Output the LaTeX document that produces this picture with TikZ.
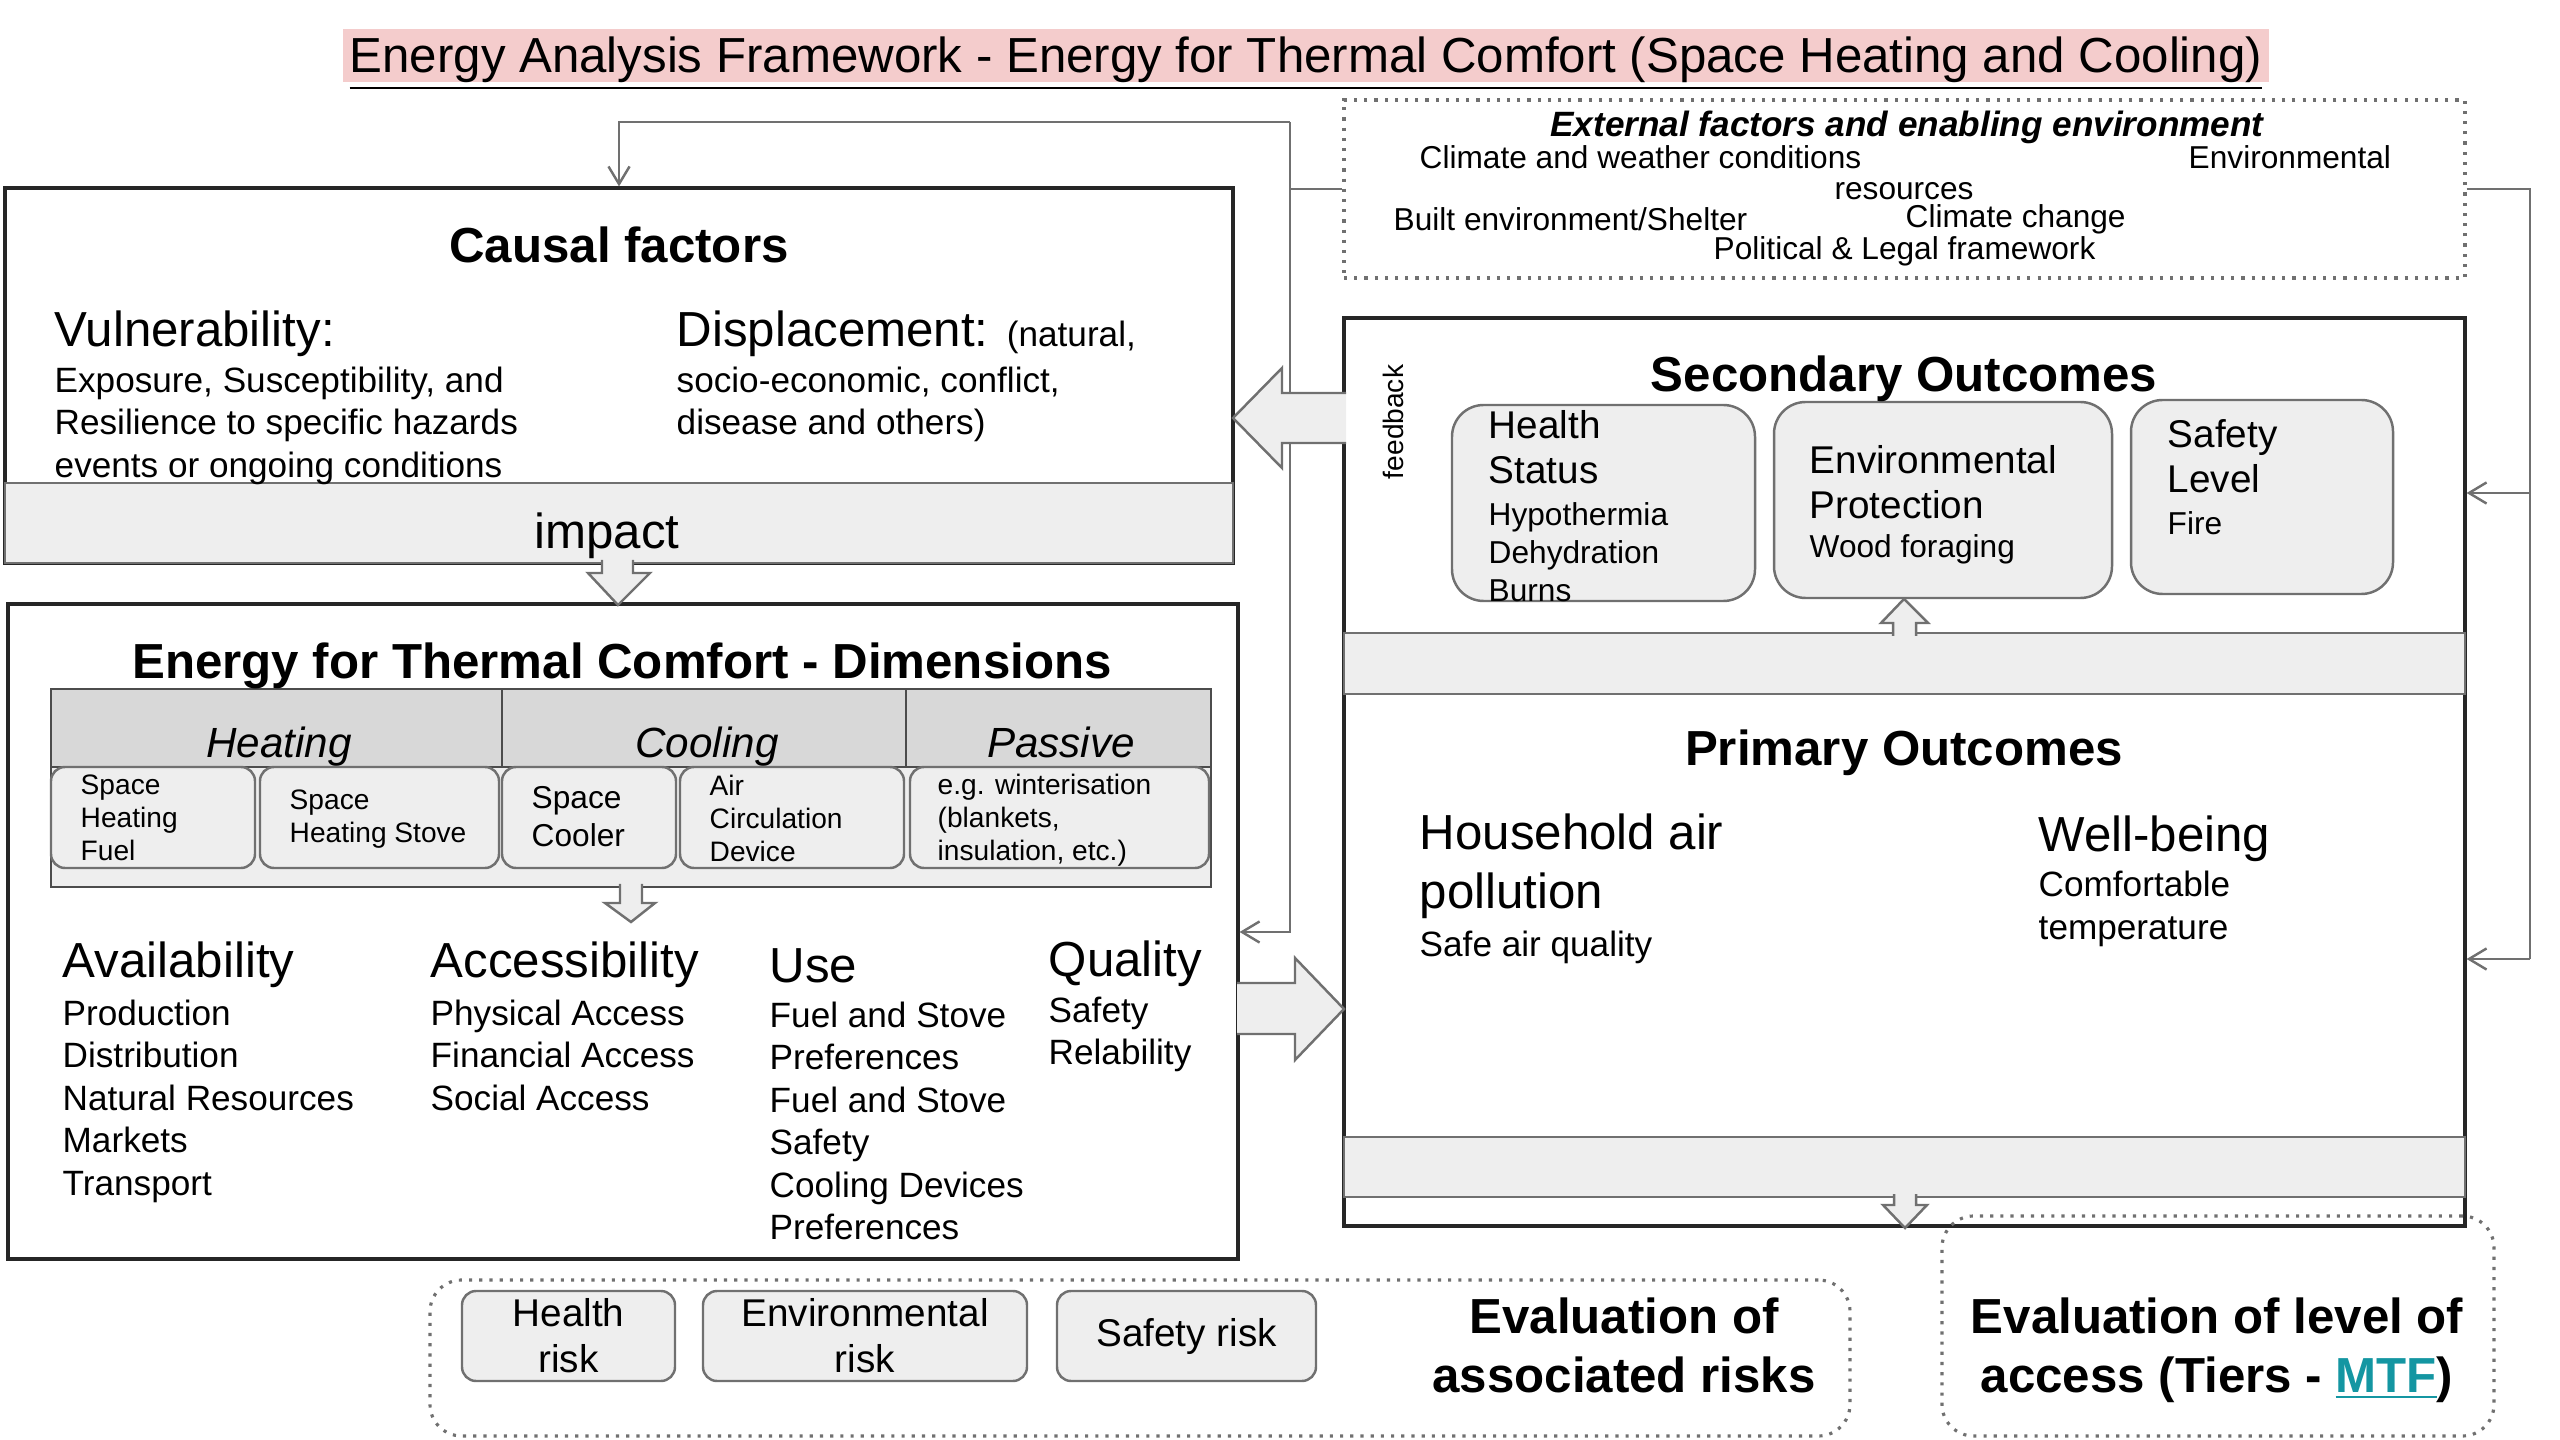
\documentclass[tikz,border=0pt]{standalone}
\usepackage{fontspec}
\setmainfont{Liberation Sans}
\usetikzlibrary{arrows.meta, positioning, fit}

\definecolor{titlepink}{RGB}{244,204,204}
\definecolor{bandgrey}{RGB}{238,238,238}
\definecolor{headgrey}{RGB}{216,216,216}
\definecolor{edgegrey}{RGB}{112,112,112}
\definecolor{mtfteal}{RGB}{20,150,162}

\newcommand{\fsz}[2]{\fontsize{#1}{#2}\selectfont}
\newcommand{\BlockArrow}[1]{%
    \fill[bandgrey] #1 -- cycle;
    \draw[blockedge] #1;%
}

\tikzset{
    mainbox/.style={draw=black!85, line width=0.9pt, inner sep=0pt},
    band/.style={draw=edgegrey, fill=bandgrey, line width=0.7pt, inner sep=0pt},
    tablebox/.style={draw=black!70, line width=0.7pt, inner sep=0pt},
    subbox/.style={draw=edgegrey, fill=bandgrey, line width=0.7pt, rounded corners=4pt, inner sep=0pt},
    softbox/.style={draw=edgegrey, fill=bandgrey, line width=0.7pt, rounded corners=9pt, inner sep=0pt},
    dotbox/.style={draw=edgegrey, dotted, line width=0.9pt, inner sep=0pt},
    blockedge/.style={draw=edgegrey, line width=0.7pt, line join=miter},
    conn/.style={draw=edgegrey, line width=0.7pt},
    linkarrow/.style={-{Straight Barb[length=5pt,width=6pt]}},
    boxhead/.style={font=\fsz{14pt}{17pt}\bfseries, inner sep=0pt},
    bigword/.style={font=\fsz{14pt}{17pt}, inner sep=0pt, anchor=base west},
    colhead/.style={font=\fsz{12pt}{14pt}\itshape, inner sep=0pt, anchor=base},
    itemlist/.style={font=\fsz{10pt}{12.1pt}, align=left, anchor=north west, inner sep=0pt},
    optlist/.style={font=\fsz{8pt}{9.4pt}, align=left, anchor=north west, inner sep=0pt},
    outlist/.style={font=\fsz{11pt}{12.8pt}, align=left, anchor=north west, inner sep=0pt},
    smalllist/.style={font=\fsz{9pt}{10.8pt}, align=left, anchor=north west, inner sep=0pt},
    extword/.style={font=\fsz{9pt}{10pt}, inner sep=0pt, anchor=west},
}

\begin{document}
\begin{tikzpicture}[x=0.01cm, y=-0.01cm]
    \useasboundingbox (0,0) rectangle (2560,1440);

    % Title
    \node[fill=titlepink, fit={(343,29) (2269,82)}, inner sep=0pt] (titlebg) {};
    \node[font=\fsz{14pt}{16pt}, inner sep=0pt, anchor=base] (title) at (1306,73)
        {\underline{Energy Analysis Framework - Energy for Thermal Comfort (Space Heating and Cooling)}};

    % Frames
    \node[mainbox, fit={(5,188) (1233,563)}] (causal) {};
    \node[band, fit={(5,483) (1233,563)}] (impactband) {};
    \node[mainbox, fit={(8,604) (1238,1259)}] (energy) {};
    \node[dotbox, fit={(1344,100) (2465,278)}] (ext) {};
    \node[mainbox, fit={(1344,318) (2465,1226)}] (outc) {};
    \node[band, fit={(1344,633) (2465,694)}] (midband) {};
    \node[band, fit={(1344,1137) (2465,1197)}] (lowband) {};
    \node[dotbox, rounded corners=9pt, fit={(430,1280) (1850,1436)}] (riskeval) {};
    \node[dotbox, rounded corners=9pt, fit={(1942,1216) (2494,1436)}] (accesseval) {};

    % Dimensions table
    \node[tablebox, fill=bandgrey, fit={(51,689) (1211,887)}] (dimtable) {};
    \node[tablebox, fill=headgrey, fit={(51,689) (1211,767)}] (dimhead) {};
    \draw[tablebox] (502,689) -- (502,767);
    \draw[tablebox] (906,689) -- (906,767);
    \foreach \xa/\xb [count=\i] in {51/255, 260/499, 502/676, 680/904, 910/1209}
        \node[subbox, fit={(\xa,767) (\xb,868)}] (opt\i) {};

    % Secondary outcome boxes
    \node[softbox, fit={(1452,405) (1755,601)}] (health) {};
    \node[softbox, fit={(1774,402) (2112,598)}] (envprot) {};
    \node[softbox, fit={(2131,400) (2393,594)}] (safety) {};

    % Risk boxes
    \node[subbox, fit={(462,1291) (675,1381)}] (hrisk) {};
    \node[subbox, fit={(703,1291) (1027,1381)}] (erisk) {};
    \node[subbox, fit={(1057,1291) (1316,1381)}] (srisk) {};

    % Connectors
    \coordinate (lbus) at (1290,122);   % left bus corner
    \coordinate (lbusend) at (1290,932);
    \coordinate (rbus) at (2530,189);   % right bus corner
    \coordinate (rbus1) at (2530,493);
    \coordinate (rbus2) at (2530,959);
    \draw[conn] (ext.west) -- (ext.west -| lbus);
    \draw[conn, linkarrow] (lbus) -| (causal.north);
    \draw[conn, linkarrow] (lbus) -- (lbusend) -- (lbusend -| energy.east);
    \draw[conn] (ext.east) -- (rbus) -- (rbus2);
    \draw[conn, linkarrow] (rbus1) -- (rbus1 -| outc.east);
    \draw[conn, linkarrow] (rbus2) -- (rbus2 -| outc.east);

    % Block arrows
    \BlockArrow{(602,560) -- (602,573) -- (588,573) -- (618,605) -- (650,573) -- (633,573) -- (633,560)}
    \BlockArrow{(620,884) -- (620,903) -- (605,903) -- (631,922) -- (655,903) -- (642,903) -- (642,884)}
    \BlockArrow{(1346,393) -- (1282,393) -- (1282,368) -- (1233,418) -- (1282,468) -- (1282,443) -- (1346,443)}
    \BlockArrow{(1237,983) -- (1295,983) -- (1295,958) -- (1344,1009) -- (1295,1060) -- (1295,1034) -- (1237,1034)}
    \BlockArrow{(1893,636) -- (1893,623) -- (1881,623) -- (1904,599) -- (1928,623) -- (1916,623) -- (1916,636)}
    \BlockArrow{(1894,1194) -- (1894,1205) -- (1883,1205) -- (1905,1228) -- (1927,1205) -- (1916,1205) -- (1916,1194)}

    % Causal factors
    \node[boxhead] (causalhead) at (619,245) {Causal factors};
    \node[bigword] (vuln) at (54,347) {Vulnerability:};
    \node[itemlist] (vulnlist) at (54,366) {Exposure, Susceptibility, and\\Resilience to specific hazards\\events or ongoing conditions};
    \node[bigword] (displ) at (676,347) {Displacement: {\fsz{10pt}{12pt}(natural,}};
    \node[itemlist] (displlist) at (676,366) {socio-economic, conflict,\\disease and others)};
    \node[font=\fsz{14pt}{17pt}, inner sep=0pt] (impact) at (607,536) {impact};

    % Dimensions
    \node[boxhead] (dimtitle) at (622,666) {Energy for Thermal Comfort - Dimensions};
    \node[colhead] (heating) at (279,758) {Heating};
    \node[colhead] (cooling) at (707,758) {Cooling};
    \node[colhead] (passive) at (1061,758) {Passive};
    \node[optlist] (opt1txt) at (80,774) {Space\\Heating\\Fuel};
    \node[optlist] (opt2txt) at (289,789) {Space\\Heating Stove};
    \node[smalllist] (opt3txt) at (531,786) {Space\\Cooler};
    \node[optlist] (opt4txt) at (709,774) {Air\\Circulation\\Device};
    \node[optlist] (opt5txt) at (937,773) {e.g. winterisation\\(blankets,\\insulation, etc.)};

    \node[bigword] (avail) at (62,978) {Availability};
    \node[itemlist] (availlist) at (62,999) {Production\\Distribution\\Natural Resources\\Markets\\Transport};
    \node[bigword] (access) at (430,978) {Accessibility};
    \node[itemlist] (accesslist) at (430,999) {Physical Access\\Financial Access\\Social Access};
    \node[bigword] (use) at (769,982) {Use};
    \node[itemlist] (uselist) at (769,1001) {Fuel and Stove\\Preferences\\Fuel and Stove\\Safety\\Cooling Devices\\Preferences};
    \node[bigword] (quality) at (1048,976) {Quality};
    \node[itemlist] (qualitylist) at (1048,996) {Safety\\Relability};

    % External factors
    \node[font=\fsz{10pt}{12pt}\bfseries\itshape, inner sep=0pt] (exthead) at (1907,127) {External factors and enabling environment};
    \node[extword] (climate) at (1419,157) {Climate and weather conditions};
    \node[extword] (envres) at (2188,157) {Environmental};
    \node[font=\fsz{9pt}{10pt}, inner sep=0pt] (resources) at (1904,191) {resources};
    \node[extword] (built) at (1393,219) {Built environment/Shelter};
    \node[extword] (change) at (1905,219) {Climate change};
    \node[extword] (legal) at (1713,251) {Political \& Legal framework};

    % Secondary outcomes
    \node[boxhead] (sechead) at (1904,379) {Secondary Outcomes};
    \node[font=\fsz{8pt}{9pt}, rotate=90, inner sep=0pt] (feedback) at (1393,422) {feedback};
    \node[outlist] (healthtxt) at (1488,410) {Health\\Status};
    \node[smalllist] (healthlist) at (1488,502) {Hypothermia\\Dehydration\\Burns};
    \node[outlist] (envtxt) at (1809,445) {Environmental\\Protection};
    \node[extword] (envlist) at (1809,549) {Wood foraging};
    \node[outlist] (safetytxt) at (2167,419) {Safety\\Level};
    \node[extword] (safetylist) at (2167,523) {Fire};

    % Primary outcomes
    \node[boxhead] (primhead) at (1904,753) {Primary Outcomes};
    \node[font=\fsz{14pt}{16.8pt}, align=left, anchor=north west, inner sep=0pt] (hap) at (1419,813) {Household air\\pollution};
    \node[font=\fsz{10pt}{12pt}, inner sep=0pt, anchor=west] (hapsub) at (1419,947) {Safe air quality};
    \node[bigword] (wellb) at (2038,851) {Well-being};
    \node[itemlist, font=\fsz{10pt}{12.2pt}] (wellbsub) at (2038,870) {Comfortable\\temperature};

    % Evaluations
    \node[font=\fsz{11pt}{13.1pt}, align=center, inner sep=0pt] (hrisktxt) at (hrisk.center) {Health\\risk};
    \node[font=\fsz{11pt}{13.1pt}, align=center, inner sep=0pt] (erisktxt) at (erisk.center) {Environmental\\risk};
    \node[font=\fsz{11pt}{13.1pt}, align=center, inner sep=0pt] (srisktxt) at (srisk.center) {Safety risk};
    \node[font=\fsz{14pt}{16.8pt}\bfseries, align=center, inner sep=0pt] (risktxt) at (1624,1345) {Evaluation of\\associated risks};
    \node[font=\fsz{14pt}{16.8pt}\bfseries, align=center, inner sep=0pt] (accesstxt) at (2217,1350)
        {Evaluation of level of\\access (Tiers - \textcolor{mtfteal}{\underline{MTF}})};
\end{tikzpicture}
\end{document}
